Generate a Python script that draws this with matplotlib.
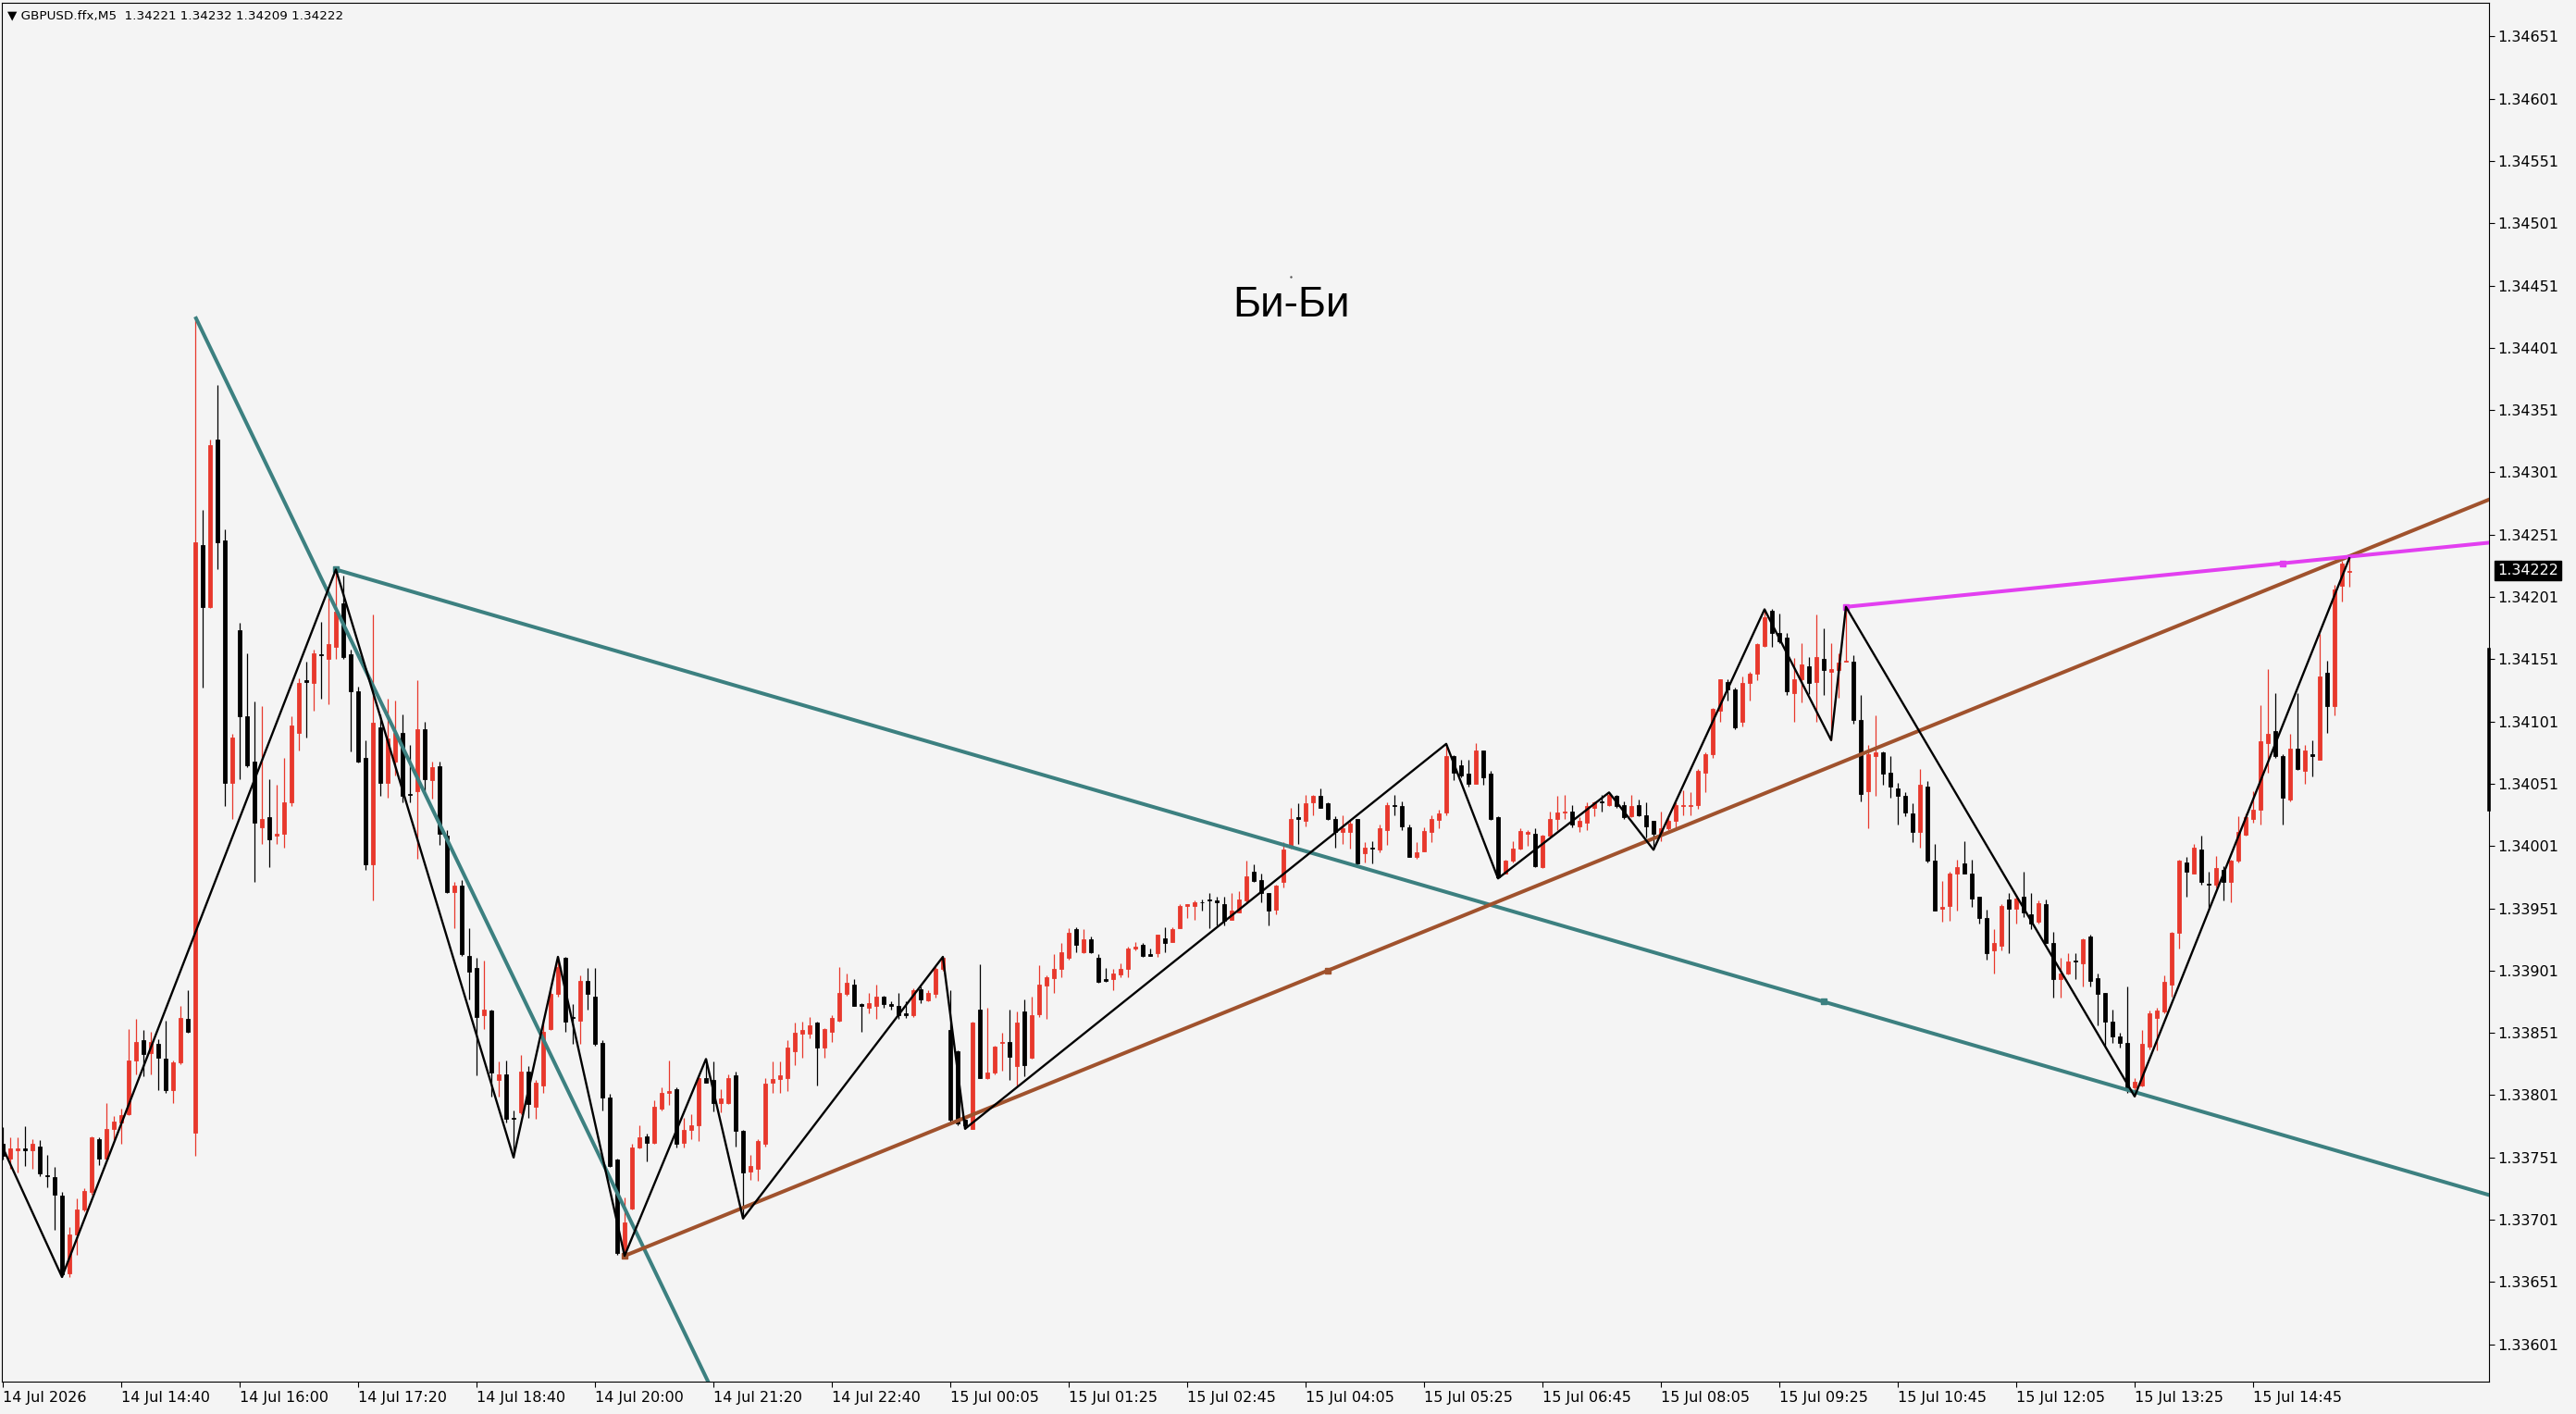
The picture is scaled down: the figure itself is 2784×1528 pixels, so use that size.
import numpy as np
import matplotlib.pyplot as plt
import matplotlib.transforms as mtransforms

# GBPUSD M5 candles, bar 0 = 14 Jul 13:20
opens = [
    1.33762, 1.33750, 1.33757, 1.33758, 1.33757, 1.33760, 1.33737, 1.33735, 1.33720, 1.33658,
    1.33689, 1.33709, 1.33723, 1.33766, 1.33750, 1.33774, 1.33779, 1.33786, 1.33829, 1.33845,
    1.33835, 1.33842, 1.33830, 1.33805, 1.33827, 1.33862, 1.33771, 1.34243, 1.34193, 1.34327,
    1.34246, 1.34052, 1.34174, 1.34105, 1.34069, 1.34016, 1.34024, 1.34009, 1.34011, 1.34036,
    1.34092, 1.34134, 1.34132, 1.34155, 1.34151, 1.34161, 1.34196, 1.34155, 1.34125, 1.34072,
    1.33986, 1.34096, 1.34052, 1.34069, 1.34092, 1.34043, 1.34045, 1.34095, 1.34054, 1.34065,
    1.34009, 1.33964, 1.33969, 1.33913, 1.33903, 1.33865, 1.33869, 1.33813, 1.33818, 1.33783,
    1.33787, 1.33820, 1.33792, 1.33809, 1.33854, 1.33882, 1.33911, 1.33864, 1.33861, 1.33893,
    1.33880, 1.33843, 1.33799, 1.33749, 1.33674, 1.33710, 1.33759, 1.33768, 1.33763, 1.33790,
    1.33803, 1.33806, 1.33763, 1.33773, 1.33777, 1.33815, 1.33813, 1.33795, 1.33795, 1.33817,
    1.33772, 1.33740, 1.33742, 1.33762, 1.33811, 1.33814, 1.33815, 1.33836, 1.33850, 1.33850,
    1.33859, 1.33839, 1.33852, 1.33861, 1.33882, 1.33890, 1.33874, 1.33871, 1.33873, 1.33880,
    1.33874, 1.33873, 1.33867, 1.33865, 1.33886, 1.33877, 1.33882, 1.33902, 1.33853, 1.33836,
    1.33781, 1.33774, 1.33870, 1.33815, 1.33819, 1.33843, 1.33844, 1.33824, 1.33868, 1.33831,
    1.33866, 1.33889, 1.33895, 1.33902, 1.33911, 1.33934, 1.33916, 1.33926, 1.33911, 1.33894,
    1.33894, 1.33898, 1.33902, 1.33919, 1.33922, 1.33914, 1.33915, 1.33927, 1.33924, 1.33935,
    1.33953, 1.33953, 1.33956, 1.33958, 1.33957, 1.33954, 1.33942, 1.33948, 1.33957, 1.33980,
    1.33974, 1.33963, 1.33950, 1.33972, 1.34000, 1.34024, 1.34021, 1.34036, 1.34041, 1.34035,
    1.34023, 1.34012, 1.34012, 1.34023, 1.33995, 1.34000, 1.33998, 1.34014, 1.34034, 1.34033,
    1.34016, 1.33992, 1.33997, 1.34012, 1.34022, 1.34028, 1.34073, 1.34066, 1.34059, 1.34051,
    1.34078, 1.34059, 1.34024, 1.33979, 1.33989, 1.33999, 1.34011, 1.34011, 1.33984, 1.34009,
    1.34023, 1.34028, 1.34029, 1.34017, 1.34020, 1.34032, 1.34037, 1.34034, 1.34041, 1.34034,
    1.34025, 1.34034, 1.34026, 1.34021, 1.34011, 1.34015, 1.34021, 1.34033, 1.34033, 1.34034,
    1.34060, 1.34075, 1.34110, 1.34133, 1.34127, 1.34101, 1.34132, 1.34139, 1.34162, 1.34190,
    1.34172, 1.34168, 1.34124, 1.34135, 1.34145, 1.34133, 1.34151, 1.34141, 1.34142, 1.34149,
    1.34149, 1.34102, 1.34045, 1.34073, 1.34076, 1.34060, 1.34047, 1.34041, 1.34027, 1.34012,
    1.34049, 1.33989, 1.33951, 1.33953, 1.33979, 1.33987, 1.33979, 1.33960, 1.33943, 1.33917,
    1.33921, 1.33958, 1.33951, 1.33960, 1.33946, 1.33940, 1.33954, 1.33923, 1.33894, 1.33899,
    1.33909, 1.33907, 1.33928, 1.33895, 1.33883, 1.33860, 1.33848, 1.33843, 1.33807, 1.33809,
    1.33840, 1.33863, 1.33868, 1.33890, 1.33931, 1.33988, 1.33979, 1.33998, 1.33971, 1.33970,
    1.33982, 1.33972, 1.33989, 1.34010, 1.34023, 1.34030, 1.34084, 1.34093, 1.34073, 1.34038,
    1.34079, 1.34061, 1.34075, 1.34070, 1.34140, 1.34113, 1.34210, 1.34221,
]
highs = [
    1.33775, 1.33767, 1.33767, 1.33776, 1.33766, 1.33765, 1.33753, 1.33743, 1.33723, 1.33695,
    1.33718, 1.33726, 1.33768, 1.33767, 1.33795, 1.33784, 1.33790, 1.33854, 1.33862, 1.33853,
    1.33852, 1.33846, 1.33861, 1.33829, 1.33873, 1.33885, 1.34426, 1.34271, 1.34327, 1.34371,
    1.34255, 1.34091, 1.34180, 1.34156, 1.34117, 1.34113, 1.34055, 1.34050, 1.34072, 1.34105,
    1.34136, 1.34149, 1.34159, 1.34181, 1.34200, 1.34223, 1.34218, 1.34159, 1.34129, 1.34086,
    1.34187, 1.34107, 1.34119, 1.34118, 1.34107, 1.34082, 1.34134, 1.34101, 1.34069, 1.34069,
    1.34014, 1.33972, 1.33974, 1.33935, 1.33911, 1.33909, 1.33870, 1.33828, 1.33829, 1.33789,
    1.33833, 1.33824, 1.33813, 1.33862, 1.33886, 1.33912, 1.33912, 1.33874, 1.33897, 1.33903,
    1.33903, 1.33845, 1.33802, 1.33750, 1.33719, 1.33762, 1.33777, 1.33770, 1.33797, 1.33807,
    1.33829, 1.33807, 1.33783, 1.33786, 1.33817, 1.33830, 1.33828, 1.33806, 1.33818, 1.33820,
    1.33773, 1.33753, 1.33766, 1.33815, 1.33828, 1.33828, 1.33845, 1.33859, 1.33860, 1.33864,
    1.33860, 1.33855, 1.33865, 1.33904, 1.33899, 1.33894, 1.33875, 1.33883, 1.33890, 1.33881,
    1.33876, 1.33883, 1.33876, 1.33887, 1.33888, 1.33885, 1.33904, 1.33912, 1.33885, 1.33837,
    1.33783, 1.33860, 1.33906, 1.33871, 1.33841, 1.33851, 1.33870, 1.33868, 1.33878, 1.33880,
    1.33905, 1.33897, 1.33914, 1.33923, 1.33935, 1.33936, 1.33934, 1.33928, 1.33914, 1.33903,
    1.33902, 1.33907, 1.33920, 1.33924, 1.33923, 1.33919, 1.33930, 1.33936, 1.33936, 1.33954,
    1.33954, 1.33957, 1.33958, 1.33963, 1.33960, 1.33960, 1.33963, 1.33965, 1.33989, 1.33986,
    1.33979, 1.33963, 1.33970, 1.34004, 1.34032, 1.34035, 1.34042, 1.34042, 1.34047, 1.34036,
    1.34025, 1.34026, 1.34021, 1.34023, 1.34004, 1.34005, 1.34018, 1.34036, 1.34042, 1.34037,
    1.34018, 1.34004, 1.34016, 1.34026, 1.34030, 1.34083, 1.34074, 1.34070, 1.34070, 1.34084,
    1.34078, 1.34061, 1.34025, 1.33990, 1.34005, 1.34015, 1.34014, 1.34015, 1.34010, 1.34029,
    1.34041, 1.34042, 1.34034, 1.34024, 1.34036, 1.34037, 1.34042, 1.34044, 1.34042, 1.34037,
    1.34042, 1.34038, 1.34036, 1.34021, 1.34029, 1.34024, 1.34036, 1.34046, 1.34044, 1.34063,
    1.34076, 1.34112, 1.34135, 1.34135, 1.34128, 1.34137, 1.34141, 1.34164, 1.34191, 1.34191,
    1.34188, 1.34172, 1.34152, 1.34164, 1.34153, 1.34187, 1.34176, 1.34164, 1.34156, 1.34193,
    1.34154, 1.34122, 1.34082, 1.34106, 1.34077, 1.34073, 1.34052, 1.34044, 1.34035, 1.34063,
    1.34053, 1.34003, 1.33973, 1.33980, 1.33990, 1.34005, 1.33990, 1.33960, 1.33950, 1.33934,
    1.33954, 1.33963, 1.33962, 1.33980, 1.33963, 1.33957, 1.33958, 1.33932, 1.33911, 1.33915,
    1.33915, 1.33927, 1.33930, 1.33899, 1.33883, 1.33870, 1.33851, 1.33888, 1.33815, 1.33853,
    1.33869, 1.33871, 1.33897, 1.33932, 1.33990, 1.33992, 1.34003, 1.34009, 1.33980, 1.33993,
    1.33985, 1.33990, 1.34025, 1.34027, 1.34045, 1.34114, 1.34143, 1.34124, 1.34075, 1.34091,
    1.34124, 1.34082, 1.34086, 1.34171, 1.34150, 1.34211, 1.34230, 1.34232,
]
lows = [
    1.33749, 1.33742, 1.33739, 1.33744, 1.33742, 1.33736, 1.33727, 1.33693, 1.33655, 1.33655,
    1.33673, 1.33708, 1.33721, 1.33745, 1.33749, 1.33765, 1.33762, 1.33785, 1.33818, 1.33816,
    1.33818, 1.33805, 1.33803, 1.33795, 1.33826, 1.33851, 1.33752, 1.34128, 1.34192, 1.34223,
    1.34033, 1.34023, 1.34055, 1.34064, 1.33972, 1.34003, 1.33984, 1.34003, 1.34000, 1.34033,
    1.34078, 1.34088, 1.34110, 1.34119, 1.34115, 1.34151, 1.34151, 1.34077, 1.34068, 1.33982,
    1.33957, 1.34041, 1.34040, 1.34058, 1.34036, 1.34036, 1.33991, 1.34045, 1.34039, 1.34002,
    1.33963, 1.33935, 1.33913, 1.33878, 1.33817, 1.33854, 1.33800, 1.33800, 1.33779, 1.33751,
    1.33786, 1.33783, 1.33782, 1.33803, 1.33853, 1.33880, 1.33852, 1.33842, 1.33842, 1.33870,
    1.33841, 1.33789, 1.33743, 1.33673, 1.33672, 1.33709, 1.33758, 1.33748, 1.33762, 1.33789,
    1.33793, 1.33759, 1.33759, 1.33766, 1.33764, 1.33811, 1.33788, 1.33787, 1.33794, 1.33760,
    1.33702, 1.33733, 1.33732, 1.33760, 1.33803, 1.33803, 1.33804, 1.33825, 1.33831, 1.33847,
    1.33809, 1.33831, 1.33844, 1.33860, 1.33881, 1.33873, 1.33852, 1.33867, 1.33862, 1.33871,
    1.33870, 1.33862, 1.33863, 1.33864, 1.33875, 1.33876, 1.33879, 1.33901, 1.33780, 1.33777,
    1.33774, 1.33774, 1.33815, 1.33814, 1.33818, 1.33821, 1.33813, 1.33809, 1.33816, 1.33830,
    1.33864, 1.33862, 1.33883, 1.33896, 1.33910, 1.33916, 1.33915, 1.33915, 1.33891, 1.33892,
    1.33885, 1.33896, 1.33896, 1.33917, 1.33912, 1.33913, 1.33912, 1.33916, 1.33924, 1.33935,
    1.33943, 1.33942, 1.33949, 1.33935, 1.33937, 1.33937, 1.33942, 1.33948, 1.33956, 1.33972,
    1.33956, 1.33937, 1.33946, 1.33968, 1.33999, 1.34003, 1.34017, 1.34026, 1.34032, 1.34022,
    1.34000, 1.34003, 1.33999, 1.33986, 1.33988, 1.33987, 1.33996, 1.34002, 1.34026, 1.34014,
    1.33992, 1.33991, 1.33997, 1.34004, 1.34015, 1.34026, 1.34054, 1.34056, 1.34049, 1.34051,
    1.34050, 1.34022, 1.33975, 1.33979, 1.33988, 1.33998, 1.34001, 1.33984, 1.33983, 1.34008,
    1.34014, 1.34023, 1.34016, 1.34012, 1.34014, 1.34025, 1.34029, 1.34033, 1.34032, 1.34023,
    1.34024, 1.34025, 1.34008, 1.33998, 1.34005, 1.34014, 1.34016, 1.34026, 1.34026, 1.34031,
    1.34044, 1.34072, 1.34101, 1.34118, 1.34095, 1.34097, 1.34118, 1.34134, 1.34161, 1.34161,
    1.34164, 1.34122, 1.34101, 1.34116, 1.34123, 1.34101, 1.34122, 1.34086, 1.34120, 1.34149,
    1.34099, 1.34037, 1.34015, 1.34041, 1.34050, 1.34040, 1.34018, 1.34025, 1.34004, 1.34000,
    1.33988, 1.33949, 1.33940, 1.33941, 1.33949, 1.33979, 1.33952, 1.33939, 1.33910, 1.33899,
    1.33917, 1.33915, 1.33939, 1.33944, 1.33934, 1.33939, 1.33923, 1.33879, 1.33879, 1.33898,
    1.33894, 1.33888, 1.33888, 1.33857, 1.33840, 1.33843, 1.33839, 1.33803, 1.33800, 1.33808,
    1.33838, 1.33837, 1.33867, 1.33880, 1.33919, 1.33960, 1.33979, 1.33970, 1.33950, 1.33968,
    1.33957, 1.33956, 1.33988, 1.34009, 1.34020, 1.34018, 1.34060, 1.34072, 1.34018, 1.34037,
    1.34062, 1.34051, 1.34057, 1.34070, 1.34092, 1.34106, 1.34197, 1.34209,
]
closes = [
    1.33752, 1.33758, 1.33758, 1.33757, 1.33762, 1.33738, 1.33736, 1.33721, 1.33657, 1.33689,
    1.33709, 1.33724, 1.33767, 1.33750, 1.33774, 1.33780, 1.33785, 1.33829, 1.33844, 1.33834,
    1.33844, 1.33831, 1.33805, 1.33827, 1.33863, 1.33852, 1.34245, 1.34193, 1.34323, 1.34245,
    1.34052, 1.34088, 1.34105, 1.34066, 1.34020, 1.34023, 1.34006, 1.34011, 1.34036, 1.34098,
    1.34132, 1.34133, 1.34156, 1.34154, 1.34163, 1.34189, 1.34153, 1.34125, 1.34069, 1.33986,
    1.34100, 1.34052, 1.34087, 1.34092, 1.34041, 1.34042, 1.34095, 1.34055, 1.34064, 1.34011,
    1.33964, 1.33969, 1.33914, 1.33900, 1.33864, 1.33870, 1.33819, 1.33818, 1.33782, 1.33782,
    1.33820, 1.33794, 1.33811, 1.33852, 1.33882, 1.33904, 1.33860, 1.33863, 1.33893, 1.33882,
    1.33842, 1.33799, 1.33744, 1.33674, 1.33699, 1.33759, 1.33767, 1.33763, 1.33792, 1.33803,
    1.33804, 1.33762, 1.33773, 1.33777, 1.33815, 1.33811, 1.33795, 1.33798, 1.33815, 1.33772,
    1.33739, 1.33744, 1.33764, 1.33810, 1.33814, 1.33817, 1.33839, 1.33851, 1.33853, 1.33857,
    1.33839, 1.33854, 1.33863, 1.33883, 1.33891, 1.33873, 1.33873, 1.33875, 1.33880, 1.33874,
    1.33873, 1.33865, 1.33865, 1.33885, 1.33878, 1.33883, 1.33902, 1.33911, 1.33781, 1.33778,
    1.33777, 1.33859, 1.33815, 1.33819, 1.33840, 1.33844, 1.33832, 1.33859, 1.33825, 1.33865,
    1.33890, 1.33896, 1.33902, 1.33916, 1.33931, 1.33922, 1.33926, 1.33916, 1.33892, 1.33893,
    1.33899, 1.33902, 1.33919, 1.33920, 1.33913, 1.33913, 1.33930, 1.33923, 1.33934, 1.33953,
    1.33954, 1.33956, 1.33956, 1.33957, 1.33956, 1.33941, 1.33949, 1.33958, 1.33977, 1.33973,
    1.33963, 1.33949, 1.33969, 1.33998, 1.34023, 1.34023, 1.34035, 1.34041, 1.34032, 1.34023,
    1.34012, 1.34015, 1.34019, 1.33987, 1.34000, 1.33999, 1.34015, 1.34034, 1.34033, 1.34017,
    1.33992, 1.33996, 1.34013, 1.34023, 1.34027, 1.34073, 1.34060, 1.34058, 1.34051, 1.34078,
    1.34056, 1.34023, 1.33976, 1.33989, 1.33999, 1.34013, 1.34012, 1.33985, 1.34009, 1.34023,
    1.34028, 1.34029, 1.34018, 1.34021, 1.34033, 1.34036, 1.34036, 1.34042, 1.34033, 1.34024,
    1.34033, 1.34026, 1.34017, 1.34011, 1.34015, 1.34021, 1.34034, 1.34034, 1.34034, 1.34061,
    1.34075, 1.34111, 1.34135, 1.34127, 1.34096, 1.34132, 1.34139, 1.34163, 1.34185, 1.34172,
    1.34165, 1.34125, 1.34135, 1.34147, 1.34132, 1.34153, 1.34142, 1.34143, 1.34148, 1.34150,
    1.34102, 1.34043, 1.34075, 1.34076, 1.34059, 1.34049, 1.34041, 1.34028, 1.34012, 1.34050,
    1.33989, 1.33949, 1.33952, 1.33979, 1.33984, 1.33979, 1.33959, 1.33943, 1.33915, 1.33923,
    1.33953, 1.33951, 1.33959, 1.33948, 1.33939, 1.33955, 1.33923, 1.33894, 1.33899, 1.33908,
    1.33908, 1.33926, 1.33893, 1.33882, 1.33860, 1.33848, 1.33843, 1.33805, 1.33812, 1.33842,
    1.33867, 1.33869, 1.33892, 1.33931, 1.33989, 1.33980, 1.34000, 1.33972, 1.33970, 1.33983,
    1.33972, 1.33989, 1.34012, 1.34024, 1.34030, 1.34085, 1.34091, 1.34073, 1.34040, 1.34079,
    1.34063, 1.34078, 1.34073, 1.34137, 1.34113, 1.34207, 1.34228, 1.34222,
]

# zigzag pivots (bar index, price)
zz_bars = [-0.4, 8, 45, 69, 75, 84, 95, 100, 127, 130, 195, 202, 217, 223, 238, 247, 249, 288, 317]
zz_prices = [1.33764, 1.33655, 1.34223, 1.33751, 1.33912, 1.33672, 1.33830, 1.33702, 1.33912, 1.33774,
             1.34083, 1.33975, 1.34044, 1.33998, 1.34191, 1.34086, 1.34193, 1.33800, 1.34232]

# trend lines: two anchor points each, drawn as rays to the right
teal1_bars, teal1_prices = [26, 70], [1.34426, 1.33883]
teal2_bars, teal2_prices = [45, 246], [1.34223, 1.33876]
brown_bars, brown_prices = [84, 179], [1.33672, 1.33901]
magenta_bars, magenta_prices = [249, 308], [1.34193, 1.34228]

tick_bars = list(range(0, 305, 16))
tick_labels = ['14 Jul 2026', '14 Jul 14:40', '14 Jul 16:00', '14 Jul 17:20', '14 Jul 18:40',
               '14 Jul 20:00', '14 Jul 21:20', '14 Jul 22:40', '15 Jul 00:05', '15 Jul 01:25',
               '15 Jul 02:45', '15 Jul 04:05', '15 Jul 05:25', '15 Jul 06:45', '15 Jul 08:05',
               '15 Jul 09:25', '15 Jul 10:45', '15 Jul 12:05', '15 Jul 13:25', '15 Jul 14:45']
price_ticks = [1.33601 + 0.0005 * k for k in range(22)]

bg = '#f4f4f4'
up_col, dn_col = '#e8382c', '#000000'
teal, brown, magenta = '#3c8080', '#a0522d', '#e23ff0'

W, H, DPI = 2784, 1528, 100
fig = plt.figure(figsize=(W / DPI, H / DPI), dpi=DPI, facecolor=bg)
ax = fig.add_axes([2 / W, 35 / H, 2688 / W, 1490 / H], facecolor=bg)

o = np.array(opens); h = np.array(highs); l = np.array(lows); c = np.array(closes)
x = np.arange(len(o))
cols = np.where(c > o, up_col, dn_col)

ax.vlines(x, l, h, colors=cols, linewidth=0.9, zorder=2)
ax.bar(x, np.abs(c - o), bottom=np.minimum(o, c), width=0.56, color=cols,
       edgecolor=cols, linewidth=0.6, zorder=3)

x_right = 345


def ray(bars, prices, color, lw, markers):
    slope = (prices[1] - prices[0]) / (bars[1] - bars[0])
    xe = [bars[0], x_right]
    ye = [prices[0], prices[0] + slope * (x_right - bars[0])]
    ax.plot(xe, ye, color=color, lw=lw, solid_capstyle='butt', zorder=5)
    if markers:
        ax.plot(bars, prices, 's', color=color, ms=5, zorder=6)


ray(teal1_bars, teal1_prices, teal, 2.9, False)
ray(teal2_bars, teal2_prices, teal, 2.9, True)
ray(brown_bars, brown_prices, brown, 2.9, True)
ray(magenta_bars, magenta_prices, magenta, 2.9, True)

ax.plot(zz_bars, zz_prices, color='black', lw=1.7, zorder=7)

ax.text(174, 1.34435, 'Би-Би', fontsize=33, family=['Liberation Sans', 'DejaVu Sans'],
        ha='center', va='center', zorder=8)
ax.plot([174], [1.34458], '.', color='#555555', ms=1.5)

ax.set_xlim(-0.125, 335.875)
ax.set_ylim(1.33571, 1.34678)

ax.yaxis.tick_right()
ax.set_yticks(price_ticks)
ax.set_yticklabels(['%.5f' % p for p in price_ticks])
ax.set_xticks(tick_bars)
ax.set_xticklabels(tick_labels)
for lbl in ax.get_xticklabels():
    lbl.set_ha('left')
ax.tick_params(axis='y', direction='out', length=4, width=0.8, pad=2.5, labelsize=11.5, colors='black')
ax.tick_params(axis='x', direction='out', length=4, width=0.8, pad=3, labelsize=11.5, colors='black')
for s in ax.spines.values():
    s.set_color('black')
    s.set_linewidth(0.8)

tr = mtransforms.blended_transform_factory(ax.transAxes, ax.transData)
ax.text(1.0033, 1.34222, '1.34222', transform=tr, fontsize=11.5, color='white', ha='left',
        va='center', bbox=dict(boxstyle='square,pad=0.18', facecolor='black', edgecolor='black'))
ax.plot([1.0, 1.0], [1.34030, 1.34159], transform=tr, color='black', lw=2.6, clip_on=False)

fig.text(8 / W, 1 - 17 / H, '▼ GBPUSD.ffx,M5  1.34221 1.34232 1.34209 1.34222',
         fontsize=9.7, ha='left', va='center', color='black')

fig.savefig('out.png', dpi=DPI, facecolor=bg)
